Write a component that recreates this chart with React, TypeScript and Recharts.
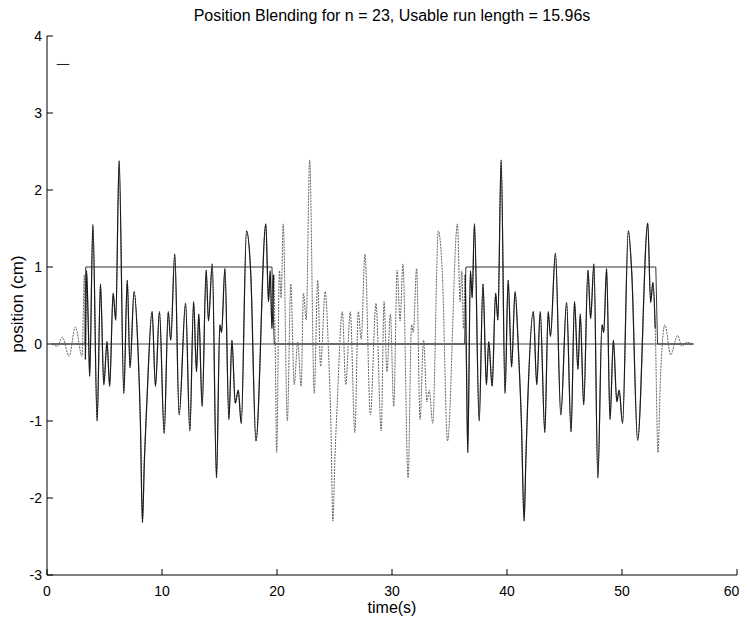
import React from "react";
import { LineChart, Line, XAxis, YAxis } from "recharts";

// ---- data ----
const timeS = [
  0.46, 0.91, 1.33, 1.92, 2.47, 3.05, 3.25, 3.34, 3.44, 3.59, 3.71, 3.99, 4.36, 4.65, 4.94, 5.22, 5.45, 5.75, 5.98, 6.27,
  6.68, 6.98, 7.22, 7.57, 7.92, 8.12, 8.3, 8.47, 8.67, 9.14, 9.43, 9.78, 10.19, 10.54, 10.76, 11.11, 11.49, 12.05, 12.42, 12.75,
  13.0, 13.2, 13.49, 13.84, 14.04, 14.37, 14.74, 15.03, 15.18, 15.47, 15.82, 16.08, 16.37, 16.63, 16.89, 17.35, 17.72, 18.17, 19.03, 19.26,
  19.41, 19.56, 19.71, 19.86, 19.97, 20.21, 20.36, 20.54, 20.9, 21.2, 21.5, 21.8, 22.1, 22.3, 22.54, 22.84, 23.24, 23.54, 23.79, 24.19,
  24.48, 24.68, 24.86, 25.03, 25.23, 25.68, 25.98, 26.37, 26.77, 27.07, 27.32, 27.65, 28.12, 28.61, 29.06, 29.31, 29.56, 29.86, 30.15, 30.45,
  30.7, 30.95, 31.4, 31.7, 31.85, 32.14, 32.44, 32.74, 33.04, 33.24, 33.54, 34.03, 34.38, 34.83, 35.69, 35.92, 36.07, 36.22, 36.37, 36.47,
  36.59, 36.82, 36.97, 37.17, 37.58, 37.91, 38.21, 38.41, 38.71, 39.01, 39.21, 39.49, 39.83, 40.1, 40.4, 40.7, 41.0, 41.25, 41.49, 41.64,
  41.79, 42.29, 42.59, 42.89, 43.29, 43.58, 43.78, 44.21, 44.68, 45.18, 45.57, 45.87, 46.17, 46.37, 46.67, 47.04, 47.27, 47.56, 47.9, 48.26,
  48.41, 48.66, 48.96, 49.25, 49.55, 49.75, 50.05, 50.55, 50.85, 51.36, 52.24, 52.49, 52.69, 52.89, 53.13, 53.33, 53.73, 54.23, 54.83, 55.22,
  55.62, 56.22,
];
const positionCm = [
  0, -0.03, 0.09, -0.16, 0.22, -0.16, 0.9, -0.2, 0.95, 0.25, -0.42, 1.55, -1.0, 0.78, -0.53, 0.03, -0.55, 0.66, 0.31, 2.38,
  -0.64, 0.83, -0.31, 0.68, -0.1, -1.0, -2.32, -1.5, -0.8, 0.42, -0.55, 0.42, -1.16, 0.42, 0.05, 1.17, -0.92, 0.53, -1.13, 0.55,
  -0.36, 0.39, -0.81, 0.96, 0.3, 1.04, -1.74, 0.25, 0.15, 0.98, -0.98, 0.05, -0.77, -0.6, -1.03, 1.47, 0.91, -1.26, 1.56, 0.55,
  0.95, 0.2, 0.9, -0.2, -1.41, 0.95, 0.6, 1.56, -1.0, 0.78, -0.53, 0.03, -0.55, 0.66, 0.31, 2.39, -0.64, 0.83, -0.29, 0.68,
  -0.1, -1.0, -2.3, -1.5, -0.8, 0.42, -0.53, 0.42, -1.15, 0.42, 0.06, 1.17, -0.92, 0.53, -1.13, 0.55, -0.36, 0.39, -0.81, 0.96,
  0.3, 1.04, -1.74, 0.25, 0.15, 0.98, -0.98, 0.05, -0.75, -0.6, -1.03, 1.47, 0.91, -1.26, 1.56, 0.55, 0.95, 0.2, 0.9, -0.2,
  -1.41, 0.95, 0.6, 1.56, -1.0, 0.78, -0.53, 0.03, -0.55, 0.66, 0.31, 2.39, -0.64, 0.83, -0.3, 0.68, -0.1, -1.0, -2.3, -1.5,
  -0.8, 0.42, -0.53, 0.42, -1.15, 0.42, 0.1, 1.18, -0.92, 0.54, -1.14, 0.55, -0.33, 0.39, -0.79, 0.96, 0.33, 1.04, -1.74, 0.25,
  0.15, 0.98, -0.98, 0.05, -0.75, -0.6, -1.03, 1.47, 0.92, -1.25, 1.57, 0.54, 0.8, 0.2, -1.41, -0.5, 0.25, -0.14, 0.11, -0.03,
  0.02, 0,
];
const windowTimes = [0.46, 3.3, 3.37, 19.56, 19.76, 36.32, 36.42, 52.94, 53.09, 56.22];
const windowValues = [0, 0, 1, 1, 0, 0, 1, 1, 0, 0];
const baselineTimes = [0.46, 56.22];
const baselineValues = [0, 0];
const windowSpans = [
  [3.3, 19.76],
  [36.32, 53.09],
];
const markTimes = [0.85, 1.95];
const markValues = [3.63, 3.63];
const xTicks = [0, 10, 20, 30, 40, 50, 60];
const yTicks = [-3, -2, -1, 0, 1, 2, 3, 4];

const TITLE = "Position Blending for n = 23, Usable run length = 15.96s";
const X_LABEL = "time(s)";
const Y_LABEL = "position (cm)";

// ---- build series ----
const zip = (ts: number[], vs: number[]) => ts.map((t, i) => ({ t, v: vs[i] }));
const signal = zip(timeS, positionCm);
const segments = windowSpans.map(([a, b]) => signal.filter((p) => p.t >= a && p.t <= b));
const windowFn = zip(windowTimes, windowValues);
const baseline = zip(baselineTimes, baselineValues);
const mark = zip(markTimes, markValues);

const W = 732;
const H = 612;
const FONT = "'Liberation Sans', Arial, Helvetica, sans-serif";
const TL = 6;

const BottomTick = (p: any) => (
  <g>
    <line x1={p.x} x2={p.x} y1={p.y} y2={p.y - TL} stroke="#000" strokeWidth={1} />
    <text x={Math.min(p.x, W - 8.5)} y={p.y + 21} textAnchor="middle" fontSize={14} fontFamily={FONT} fill="#000">
      {p.payload.value}
    </text>
  </g>
);
const TopTick = (p: any) => (
  <line x1={p.x} x2={p.x} y1={p.y} y2={p.y + TL} stroke="#000" strokeWidth={1} />
);
const LeftTick = (p: any) => (
  <g>
    <line x1={p.x} x2={p.x + TL} y1={p.y} y2={p.y} stroke="#000" strokeWidth={1} />
    <text x={p.x - 5} y={p.y + 5} textAnchor="end" fontSize={14} fontFamily={FONT} fill="#000">
      {p.payload.value}
    </text>
  </g>
);
const RightTick = (p: any) => (
  <line x1={p.x} x2={p.x - TL} y1={p.y} y2={p.y} stroke="#000" strokeWidth={1} />
);

export default function App() {
  return (
    <div style={{ position: "relative", width: W, height: H, background: "#fff" }}>
      <LineChart width={W} height={H} margin={{ top: 28, right: 3, bottom: 0, left: 0 }}>
        <XAxis
          xAxisId="b"
          type="number"
          dataKey="t"
          domain={[0, 60]}
          ticks={xTicks}
          allowDataOverflow
          interval={0}
          height={45}
          tickSize={0}
          tickMargin={0}
          tickLine={false}
          tick={BottomTick}
          axisLine={{ stroke: "#000" }}
        />
        <XAxis
          xAxisId="t"
          orientation="top"
          type="number"
          dataKey="t"
          domain={[0, 60]}
          ticks={xTicks}
          allowDataOverflow
          interval={0}
          height={0}
          tickSize={0}
          tickMargin={0}
          tickLine={false}
          tick={TopTick}
          axisLine={{ stroke: "#000" }}
        />
        <YAxis
          yAxisId="l"
          type="number"
          domain={[-3, 4]}
          ticks={yTicks}
          allowDataOverflow
          interval={0}
          width={39}
          tickSize={0}
          tickMargin={0}
          tickLine={false}
          tick={LeftTick}
          axisLine={{ stroke: "#000" }}
        />
        <YAxis
          yAxisId="r"
          orientation="right"
          type="number"
          domain={[-3, 4]}
          ticks={yTicks}
          allowDataOverflow
          interval={0}
          width={0}
          tickSize={0}
          tickMargin={0}
          tickLine={false}
          tick={RightTick}
          axisLine={{ stroke: "#000" }}
        />
        <Line xAxisId="b" yAxisId="l" data={baseline} dataKey="v" stroke="#444" strokeWidth={1} dot={false} isAnimationActive={false} />
        <Line xAxisId="b" yAxisId="l" data={windowFn} dataKey="v" stroke="#333" strokeWidth={1} dot={false} isAnimationActive={false} />
        <Line xAxisId="b" yAxisId="l" data={mark} dataKey="v" stroke="#222" strokeWidth={1} dot={false} isAnimationActive={false} />
        <Line xAxisId="b" yAxisId="l" type="monotone" data={signal} dataKey="v" stroke="#666" strokeWidth={1} strokeDasharray="2 1" dot={false} isAnimationActive={false} />
        {segments.map((seg, i) => (
          <Line key={i} xAxisId="b" yAxisId="l" type="monotone" data={seg} dataKey="v" stroke="#1a1a1a" strokeWidth={1.2} dot={false} isAnimationActive={false} />
        ))}
      </LineChart>
      <div style={{ position: "absolute", left: 39, width: 690, top: -1, textAlign: "center", fontFamily: FONT, fontSize: 16, lineHeight: "18px", color: "#000", whiteSpace: "nowrap" }}>
        {TITLE}
      </div>
      <div style={{ position: "absolute", left: 39, width: 690, top: 591, textAlign: "center", fontFamily: FONT, fontSize: 16, lineHeight: "18px", color: "#000" }}>
        {X_LABEL}
      </div>
      <div style={{ position: "absolute", left: 10 - 100, top: 295.5 - 10, width: 200, textAlign: "center", fontFamily: FONT, fontSize: 17, lineHeight: "20px", color: "#000", transform: "rotate(-90deg)", whiteSpace: "nowrap" }}>
        {Y_LABEL}
      </div>
    </div>
  );
}
